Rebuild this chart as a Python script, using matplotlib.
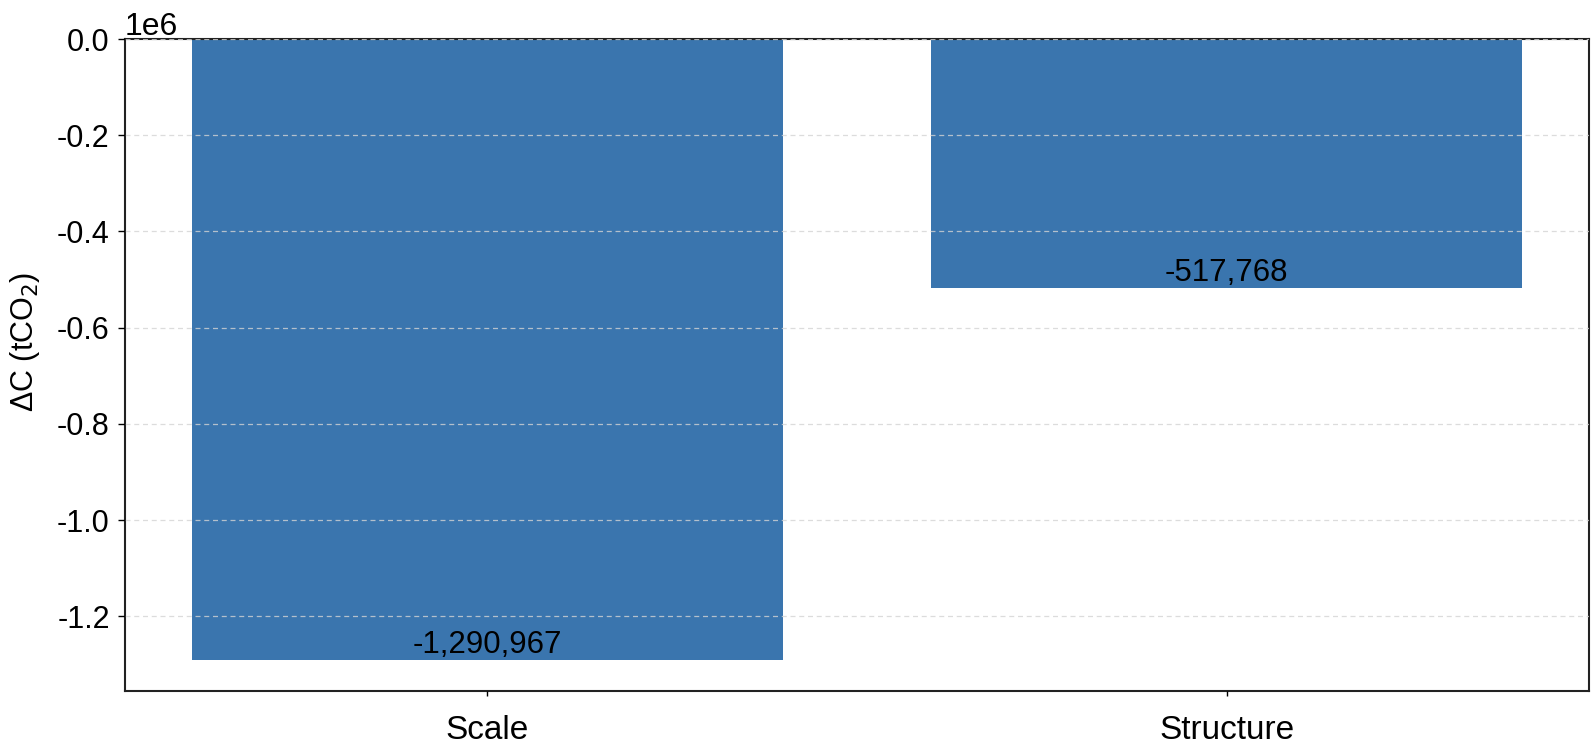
import matplotlib
matplotlib.use("Agg")
import matplotlib.pyplot as plt

categories = ["Scale", "Structure"]
values = [-1290967, -517768]

plt.rcParams['font.family'] = ['Liberation Sans', 'DejaVu Sans']
plt.rcParams['axes.unicode_minus'] = False

fig = plt.figure(figsize=(15.96, 7.52), dpi=100)
ax = fig.add_axes([0.0783, 0.0811, 0.9173, 0.867])

bars = ax.bar(categories, values, width=0.8, color='#3a75ae', zorder=2)
ax.set_ylim(min(values) * 1.05, 0)
ax.grid(axis='y', linestyle=(0, (4, 3)), color='#d4d4d4', alpha=0.8, linewidth=0.9, zorder=3)
ax.set_axisbelow(False)

for i, v in enumerate(values):
    ax.text(i, v, f"{v:,.0f}", ha='center', va='bottom', fontsize=22.5, color='black', zorder=4)

ax.set_ylabel(r"ΔC (tCO$_2$)", fontsize=22)
ax.yaxis.set_label_coords(-0.057, 0.535)
ax.tick_params(axis='y', labelsize=22, length=5, width=1, pad=6)
ax.tick_params(axis='x', labelsize=24, length=3.5, width=1, pad=14)
ax.yaxis.get_offset_text().set_fontsize(23)
for s in ax.spines.values():
    s.set_linewidth(1.5)
    s.set_color('#222222')

fig.savefig("out.png", dpi=100)
